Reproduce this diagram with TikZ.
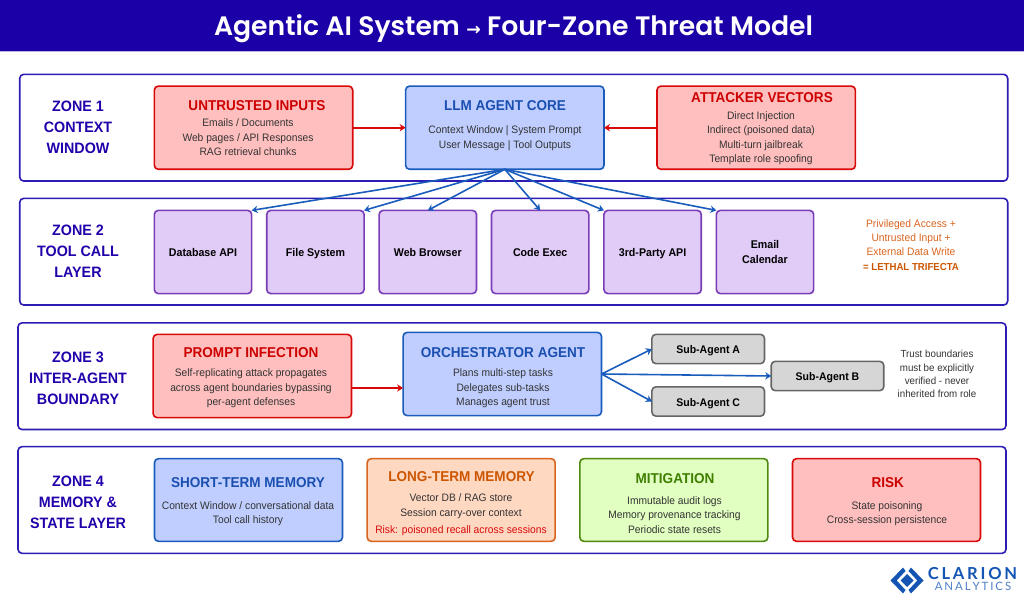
\documentclass[tikz,border=0pt]{standalone}
\usepackage{fontspec}
\usepackage{tikz}
\usetikzlibrary{
        arrows,
        arrows.meta,
        positioning
    }
\setmainfont{Liberation Sans}[FakeStretch=0.95]
\newfontfamily\titlefont{Poppins SemiBold}
\newfontfamily\arrowfont{DejaVu Sans}
\newfontfamily\logofont{Lato}
\definecolor{navy}{HTML}{1A00A6}
\definecolor{zoneline}{HTML}{2C1CB4}
\definecolor{zonetext}{HTML}{2200AA}
\definecolor{redline}{HTML}{D90909}
\definecolor{redfill}{HTML}{FFBFBF}
\definecolor{redtext}{HTML}{CC0000}
\definecolor{blueline}{HTML}{1A5CBC}
\definecolor{bluefill}{HTML}{BFCEFF}
\definecolor{bluetext}{HTML}{1A4FB0}
\definecolor{purpline}{HTML}{7A3CB8}
\definecolor{purpfill}{HTML}{E1CBF7}
\definecolor{greyline}{HTML}{666666}
\definecolor{greyfill}{HTML}{D6D6D6}
\definecolor{orgline}{HTML}{D9641E}
\definecolor{orgfill}{HTML}{FFD8C2}
\definecolor{orgtext}{HTML}{CC5500}
\definecolor{grnline}{HTML}{4F8A10}
\definecolor{grnfill}{HTML}{E0FFC0}
\definecolor{grntext}{HTML}{3F7F00}
\definecolor{bodytext}{HTML}{333333}
\definecolor{logoblue}{HTML}{1455B4}
\tikzset{
    box/.style={draw,rounded corners=3pt,line width=1.2pt,outer sep=0pt,inner sep=0pt},
    struts/.style={execute at begin node=\strut,execute at end node=\strut},
    zone/.style={box,draw=zoneline,minimum width=741pt,minimum height=80pt},
    zonelabel/.style={align=center,text=zonetext,font=\fontsize{11.3}{15.8}\selectfont\bfseries},
    redbox/.style={box,draw=redline,fill=redfill},
    bluebox/.style={box,draw=blueline,fill=bluefill},
    orgbox/.style={box,draw=orgline,fill=orgfill},
    grnbox/.style={box,draw=grnline,fill=grnfill},
    wide/.style={minimum width=148.8pt,minimum height=62.4pt},
    mem/.style={minimum width=141pt,minimum height=62pt},
    toollabel/.style={align=center,text=black,font=\fontsize{8.4}{11.2}\selectfont\bfseries},
    toolbox/.style={box,toollabel,draw=purpline,fill=purpfill,minimum width=73pt,minimum height=62.4pt,
        execute at begin node={\rule{0pt}{10.3pt}},execute at end node=\strut},
    subagent/.style={box,draw=greyline,fill=greyfill,minimum width=84.4pt,minimum height=22pt,
        execute at begin node={\rule{0pt}{10pt}},execute at end node=\strut,
        text=black,font=\fontsize{8.3}{10}\selectfont\bfseries},
    head/.style={yshift=-0.4pt,font=\fontsize{10.7}{12}\selectfont\bfseries},
    body/.style={struts,yshift=-1.5pt,align=center,text=bodytext,font=\fontsize{8.1}{10.85}\selectfont},
    redarrow/.style={-{Stealth[length=4.5pt,width=5.5pt]},draw=redline,line width=1.3pt},
    bluearrow/.style={-{Stealth[length=4.5pt,width=5.5pt]},draw=blueline,line width=1.2pt}
}

\begin{document}
\begin{tikzpicture}[x=0.75pt,y=-0.75pt]
    \useasboundingbox (0,0) rectangle (1024,602);
    % header
    \node[fill=navy,minimum width=768pt,minimum height=38.4pt,inner sep=0pt,outer sep=0pt] (bar) at (512,25.6) {};
    \node[text=white,font=\fontsize{20}{24}\selectfont\titlefont] (title) at (513.5,29)
        {Agentic AI System {\arrowfont\bfseries\fontsize{13}{24}\selectfont →} Four-Zone Threat Model};
    \draw[draw=navy!30,line width=0.6pt] (bar.south west) -- (bar.south east);

    % zones
    \node[zone] (z1) at (513.7,127.7) {};
    \node[zone] (z2) at (513.7,251.7) {};
    \node[zone] (z3) at (512,376.2) {};
    \node[zone] (z4) at (512,500) {};
    \node[zonelabel] (z1label) at (78,127) {ZONE 1\\CONTEXT\\WINDOW};
    \node[zonelabel] (z2label) at (78,251) {ZONE 2\\TOOL CALL\\LAYER};
    \node[zonelabel] (z3label) at (78,378) {ZONE 3\\INTER-AGENT\\BOUNDARY};
    \node[zonelabel] (z4label) at (78,502) {ZONE 4\\MEMORY \&\\STATE LAYER};

    % zone 1
    \node[redbox,wide] (untrusted) at (253.5,127.7) {};
    \node[bluebox,wide] (llm) at (504.8,127.7) {};
    \node[redbox,wide] (attacker) at (756.2,127.7) {};
    \node[head,text=redtext] (untrustedhead) at (257,105.5) {UNTRUSTED INPUTS};
    \node[body] (untrustedbody) at (248,137.5) {Emails / Documents\\Web pages / API Responses\\RAG retrieval chunks};
    \node[head,text=bluetext] (llmhead) at (505,105.5) {LLM AGENT CORE};
    \node[body] (llmbody) at (505,137.3) {Context Window | System Prompt\\User Message | Tool Outputs};
    \node[head,text=redtext] (attackerhead) at (762,97) {ATTACKER VECTORS};
    \node[body] (attackerbody) at (761,137.3) {Direct Injection\\Indirect (poisoned data)\\Multi-turn jailbreak\\Template role spoofing};

    % zone 2
    \node[toolbox] (db) at (203,252) {Database API};
    \node[toolbox,right=11.3pt of db] (fs) {File System};
    \node[toolbox,right=11.3pt of fs] (web) {Web Browser};
    \node[toolbox,right=11.3pt of web] (code) {Code Exec};
    \node[toolbox,right=11.3pt of code] (api) {3rd-Party API};
    \node[toolbox,right=11.3pt of api] (email) {};
    \node[toollabel] (emaillabel) at (email.center) {Email\\Calendar};
    \node[body,text=orgline] (trifecta) at (911,245)
        {Privileged Access +\\Untrusted Input +\\External Data Write\\{\fontsize{7.6}{10.85}\selectfont\bfseries\color{orgtext}= LETHAL TRIFECTA}};

    % zone 3
    \node[redbox,wide] (prompt) at (252.3,376) {};
    \node[bluebox,wide] (orch) at (502.3,374) {};
    \node[head,text=redtext] (prompthead) at (251,352) {PROMPT INFECTION};
    \node[body] (promptbody) at (251,387.5) {Self-replicating attack propagates\\across agent boundaries bypassing\\per-agent defenses};
    \node[head,text=bluetext] (orchhead) at (503,352) {ORCHESTRATOR AGENT};
    \node[body] (orchbody) at (503,387.5) {Plans multi-step tasks\\Delegates sub-tasks\\Manages agent trust};
    \node[subagent] (suba) at (708.2,349) {Sub-Agent A};
    \node[subagent] (subb) at (827.5,376) {Sub-Agent B};
    \node[subagent] (subc) at (708.2,401.5) {Sub-Agent C};
    \node[body,font=\fontsize{7.7}{9.9}\selectfont] (trust) at (937,374)
        {Trust boundaries\\must be explicitly\\verified - never\\inherited from role};

    % zone 4
    \node[bluebox,mem] (short) at (248.5,500) {};
    \node[orgbox,mem,right=18.5pt of short] (long) {};
    \node[grnbox,mem,right=18.5pt of long] (mitig) {};
    \node[redbox,mem,right=18.5pt of mitig] (risk) {};
    \node[head,text=bluetext] (shorthead) at (248,482) {SHORT-TERM MEMORY};
    \node[body] (shortbody) at (248,512.7) {Context Window / conversational data\\Tool call history};
    \node[head,text=orgtext] (longhead) at (461.5,476) {LONG-TERM MEMORY};
    \node[body] (longbody) at (461,505.2) {Vector DB / RAG store\\Session carry-over context};
    \node[body,text=redline] (longrisk) at (461,529) {Risk: poisoned recall across sessions};
    \node[head,text=grntext] (mitighead) at (675,478) {MITIGATION};
    \node[body] (mitigbody) at (674.5,515) {Immutable audit logs\\Memory provenance tracking\\Periodic state resets};
    \node[head,text=redtext] (riskhead) at (887.7,482) {RISK};
    \node[body] (riskbody) at (887,512.7) {State poisoning\\Cross-session persistence};

    % logo
    \fill[logoblue] (890.5,580.5) -- (903,567.5) -- (905.5,571) -- (896.7,580.5) -- (905.5,590) -- (903,593.5) -- cycle;
    \fill[logoblue] (923.5,580.5) -- (911,567.5) -- (908.5,571) -- (917.3,580.5) -- (908.5,590) -- (911,593.5) -- cycle;
    \fill[logoblue] (907,574) -- (913.5,580.5) -- (907,587) -- (900.5,580.5) -- cycle;
    \node[text=logoblue,font=\fontsize{12.4}{14}\selectfont\logofont\bfseries,inner sep=0pt] (clarion) at (972.5,574) {C\,L\,A\,R\,I\,O\,N};
    \node[text=logoblue!75,font=\fontsize{8.6}{10}\selectfont\logofont,inner sep=0pt] (analytics) at (973,586.5) {A\,N\,A\,L\,Y\,T\,I\,C\,S};

    % connectors
    \draw[redarrow] (untrusted.east) -- (llm.west);
    \draw[redarrow] (attacker.west) -- (llm.east);
    \draw[redarrow] ([yshift=-9pt]prompt.east) -- ([yshift=-10.5pt]orch.west);
    \foreach \target/\side in {db/north east,fs/north east,web/north,code/north,api/north west,email/north west}
        \draw[bluearrow] (llm.south) -- (\target.\side);
    \foreach \target in {suba,subb,subc}
        \draw[bluearrow] (orch.east) -- (\target.west);
\end{tikzpicture}
\end{document}
